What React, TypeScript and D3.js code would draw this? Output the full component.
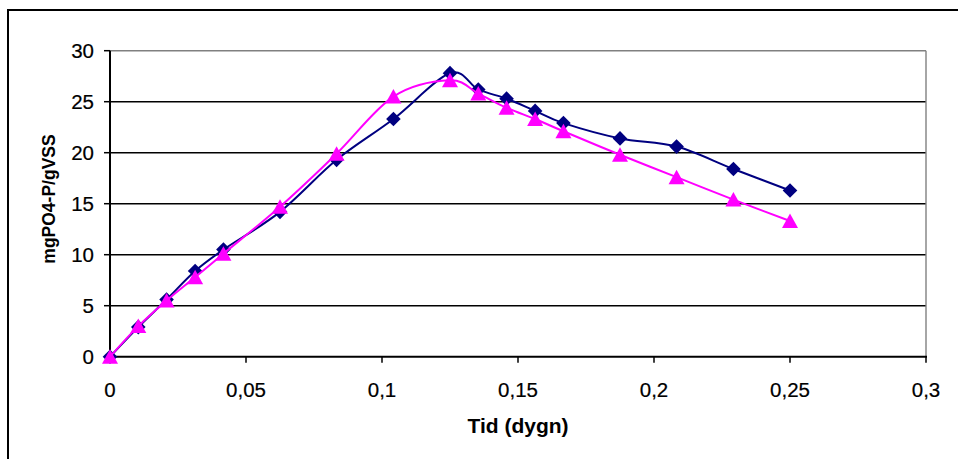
import React from "react";
import * as d3 from "d3";

const times = [0, 0.0104, 0.0208, 0.0313, 0.0417, 0.0625, 0.0833, 0.1042, 0.125, 0.1354, 0.1458, 0.1563, 0.1667, 0.1875, 0.2083, 0.2292, 0.25];
const seriesBlue = [0, 2.9, 5.6, 8.4, 10.5, 14.2, 19.3, 23.3, 27.8, 26.2, 25.3, 24.1, 22.9, 21.4, 20.6, 18.4, 16.3];
const seriesPink = [0, 3.0, 5.5, 7.8, 10.1, 14.7, 19.9, 25.5, 27.1, 25.8, 24.4, 23.3, 22.1, 19.8, 17.6, 15.4, 13.3];
const xTicks = [0, 0.05, 0.1, 0.15, 0.2, 0.25, 0.3];
const xTickLabels = ["0", "0,05", "0,1", "0,15", "0,2", "0,25", "0,3"];
const yTicks = [0, 5, 10, 15, 20, 25, 30];
const xTitle = "Tid (dygn)";
const yTitle = "mgPO4-P/gVSS";

const W = 958;
const H = 459;
const FONT = "'Liberation Sans', Arial, sans-serif";

export default function App() {
  const x = d3.scaleLinear().domain([0, 0.3]).range([110, 926]);
  const y = d3.scaleLinear().domain([0, 30]).range([356.7, 50.7]);
  const line = d3
    .line<number>()
    .x((_, i) => x(times[i]))
    .y((d) => y(d))
    .curve(d3.curveCardinal.tension(0));

  const diamond = (cx: number, cy: number) =>
    `M${cx},${cy - 7.3}L${cx + 7.3},${cy}L${cx},${cy + 7.3}L${cx - 7.3},${cy}Z`;
  const triangle = (cx: number, cy: number) =>
    `M${cx},${cy - 7.5}L${cx + 8},${cy + 7}L${cx - 8},${cy + 7}Z`;

  const x0 = x(0);
  const x1 = x(0.3);
  const y0 = y(0);
  const y1 = y(30);

  return (
    <svg
      width={W}
      height={H}
      style={{ position: "absolute", left: 0, top: 0, background: "#fff" }}
      fontFamily={FONT}
    >
      <rect x={0} y={0} width={W} height={H} fill="#fff" />
      {/* outer frame */}
      <rect x={8} y={10} width={1000} height={500} fill="none" stroke="#000" strokeWidth={2} />

      {/* gridlines */}
      {yTicks.filter((t) => t > 0 && t < 30).map((t) => (
        <line key={t} x1={x0} x2={x1} y1={y(t)} y2={y(t)} stroke="#000" strokeWidth={1.4} />
      ))}
      {/* plot border top & right */}
      <line x1={x0} x2={x1} y1={y1} y2={y1} stroke="#808080" strokeWidth={1.4} />
      <line x1={x1} x2={x1} y1={y1} y2={y0} stroke="#808080" strokeWidth={1.4} />

      {/* axes */}
      <line x1={x0} x2={x0} y1={y1} y2={y0} stroke="#000" strokeWidth={2} />
      <line x1={x0} x2={x1 + 1} y1={y0} y2={y0} stroke="#000" strokeWidth={2} />
      {yTicks.map((t) => (
        <g key={"yt" + t}>
          <line x1={x0 - 6} x2={x0} y1={y(t)} y2={y(t)} stroke="#000" strokeWidth={1.5} />
          <text
            x={94}
            y={y(t)}
            dy="0.36em"
            textAnchor="end"
            fontSize={20.5}
            fill="#000"
            stroke="#000"
            strokeWidth={0.2}
          >
            {t}
          </text>
        </g>
      ))}
      {xTicks.map((t, i) => (
        <g key={"xt" + t}>
          <line x1={x(t)} x2={x(t)} y1={y0} y2={y0 + 6} stroke="#000" strokeWidth={1.5} />
          <text x={x(t)} y={397} textAnchor="middle" fontSize={20.5} fill="#000" stroke="#000" strokeWidth={0.2}>
            {xTickLabels[i]}
          </text>
        </g>
      ))}

      <text x={(x0 + x1) / 2} y={432.5} textAnchor="middle" fontSize={21} fontWeight="bold" fill="#000">
        {xTitle}
      </text>
      <text
        transform={`translate(55,199) rotate(-90)`}
        textAnchor="middle"
        fontSize={17.5}
        fontWeight="bold"
        fill="#000"
      >
        {yTitle}
      </text>

      {/* blue series */}
      <path d={line(seriesBlue) || ""} fill="none" stroke="#000080" strokeWidth={2} />
      {seriesBlue.map((v, i) => (
        <path key={"b" + i} d={diamond(x(times[i]), y(v))} fill="#000080" />
      ))}

      {/* pink series */}
      <path d={line(seriesPink) || ""} fill="none" stroke="#FF00FF" strokeWidth={2} />
      {seriesPink.map((v, i) => (
        <path key={"p" + i} d={triangle(x(times[i]), y(v))} fill="#FF00FF" />
      ))}
    </svg>
  );
}
